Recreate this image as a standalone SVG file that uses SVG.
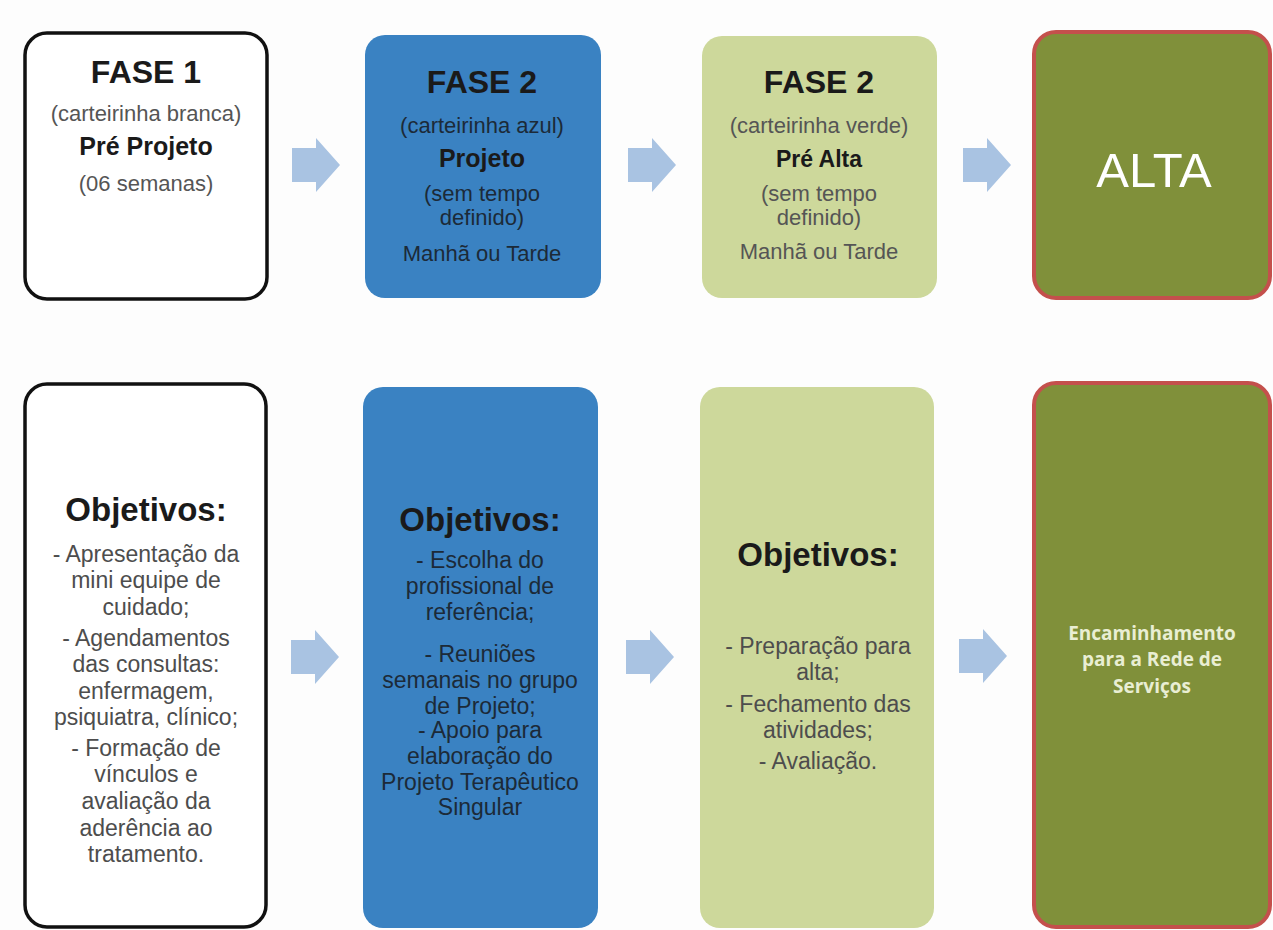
<svg xmlns="http://www.w3.org/2000/svg" width="1273" height="930" viewBox="0 0 1273 930">
  <style>
    .t { font-family: "Liberation Sans", Arial, sans-serif; text-anchor: middle; }
    .h1 { font-size: 32px; font-weight: bold; fill: #1a1a1a; }
    .sub { font-size: 22px; fill: #555; }
    .b { font-size: 25px; font-weight: bold; fill: #1a1a1a; }
    .obj { font-size: 33px; font-weight: bold; fill: #1a1a1a; }
    .li { font-size: 23px; fill: #4d4d4d; }
    .dark { fill: #1c2a38; }
    .white-box { fill: #ffffff; stroke: #111; stroke-width: 3.5; }
    .blue-box { fill: #3a82c2; }
    .light-box { fill: #cdd89b; }
    .olive-box { fill: #80903a; stroke: #c4504c; stroke-width: 4; }
    .arrow { fill: #a9c3e2; }
    .cal { font-family: "Open Sans", "Liberation Sans", sans-serif; font-size: 19px; font-weight: bold; fill: #e9eed3; text-anchor: middle; }
  </style>
  <defs>
    <path id="blockArrow" d="M0,-17 H24 V-27 L48,0 L24,27 V17 H0 Z"/>
  </defs>

  <rect width="1273" height="930" fill="#fdfdfd"/>

  <!-- top row -->
  <g id="fase1">
    <rect class="white-box" x="25" y="33" width="242" height="266" rx="22"/>
    <text class="t h1" x="146" y="83">FASE 1</text>
    <text class="t sub" x="146" y="121">(carteirinha branca)</text>
    <text class="t b" x="146" y="155">Pré Projeto</text>
    <text class="t sub" x="146" y="191">(06 semanas)</text>
  </g>

  <g id="fase2-projeto">
    <rect class="blue-box" x="365" y="35" width="236" height="263" rx="20"/>
    <text class="t h1" x="482" y="93">FASE 2</text>
    <text class="t sub dark" x="482" y="133">(carteirinha azul)</text>
    <text class="t b" x="482" y="167">Projeto</text>
    <text class="t sub dark" x="482" y="201">(sem tempo</text>
    <text class="t sub dark" x="482" y="225">definido)</text>
    <text class="t sub dark" x="482" y="261">Manhã ou Tarde</text>
  </g>

  <g id="fase2-prealta">
    <rect class="light-box" x="702" y="36" width="235" height="262" rx="20"/>
    <text class="t h1" x="819" y="93">FASE 2</text>
    <text class="t sub" x="819" y="133">(carteirinha verde)</text>
    <text class="t b" x="819" y="167" style="font-size:23px">Pré Alta</text>
    <text class="t sub" x="819" y="201">(sem tempo</text>
    <text class="t sub" x="819" y="225">definido)</text>
    <text class="t sub" x="819" y="259">Manhã ou Tarde</text>
  </g>

  <g id="alta">
    <rect class="olive-box" x="1034" y="32" width="236" height="266" rx="22"/>
    <text class="t" x="1154" y="187" style="font-size:49px; fill:#ffffff">ALTA</text>
  </g>

  <!-- bottom row -->
  <g id="objetivos-fase1">
    <rect class="white-box" x="25" y="384" width="241" height="543" rx="22"/>
    <text class="t obj" x="146" y="521">Objetivos:</text>
    <text class="t li" x="146" y="562">- Apresentação da</text>
    <text class="t li" x="146" y="588">mini equipe de</text>
    <text class="t li" x="146" y="615">cuidado;</text>
    <text class="t li" x="146" y="646">- Agendamentos</text>
    <text class="t li" x="146" y="672">das consultas:</text>
    <text class="t li" x="146" y="699">enfermagem,</text>
    <text class="t li" x="146" y="725">psiquiatra, clínico;</text>
    <text class="t li" x="146" y="756">- Formação de</text>
    <text class="t li" x="146" y="782">vínculos e</text>
    <text class="t li" x="146" y="809">avaliação da</text>
    <text class="t li" x="146" y="836">aderência ao</text>
    <text class="t li" x="146" y="862">tratamento.</text>
  </g>

  <g id="objetivos-fase2">
    <rect class="blue-box" x="363" y="387" width="235" height="541" rx="20"/>
    <text class="t obj" x="480" y="531">Objetivos:</text>
    <text class="t li dark" x="480" y="568">- Escolha do</text>
    <text class="t li dark" x="480" y="594">profissional de</text>
    <text class="t li dark" x="480" y="620">referência;</text>
    <text class="t li dark" x="480" y="662">-  Reuniões</text>
    <text class="t li dark" x="480" y="688">semanais no grupo</text>
    <text class="t li dark" x="480" y="714">de Projeto;</text>
    <text class="t li dark" x="480" y="738">- Apoio para</text>
    <text class="t li dark" x="480" y="764">elaboração do</text>
    <text class="t li dark" x="480" y="790">Projeto Terapêutico</text>
    <text class="t li dark" x="480" y="815">Singular</text>
  </g>

  <g id="objetivos-prealta">
    <rect class="light-box" x="700" y="387" width="234" height="541" rx="20"/>
    <text class="t obj" x="818" y="566">Objetivos:</text>
    <text class="t li" x="818" y="654">- Preparação para</text>
    <text class="t li" x="818" y="680">alta;</text>
    <text class="t li" x="818" y="712">- Fechamento das</text>
    <text class="t li" x="818" y="738">atividades;</text>
    <text class="t li" x="818" y="769">- Avaliação.</text>
  </g>

  <g id="encaminhamento">
    <rect class="olive-box" x="1034" y="383" width="236" height="544" rx="22"/>
    <text class="cal" x="1152" y="640">Encaminhamento</text>
    <text class="cal" x="1152" y="666">para a Rede de</text>
    <text class="cal" x="1152" y="693">Serviços</text>
  </g>

  <!-- connectors -->
  <g id="connectors" class="arrow">
    <use href="#blockArrow" x="292" y="165"/>
    <use href="#blockArrow" x="628" y="165"/>
    <use href="#blockArrow" x="963" y="165"/>
    <use href="#blockArrow" x="291" y="657"/>
    <use href="#blockArrow" x="626" y="657"/>
    <use href="#blockArrow" x="959" y="656"/>
  </g>
</svg>
